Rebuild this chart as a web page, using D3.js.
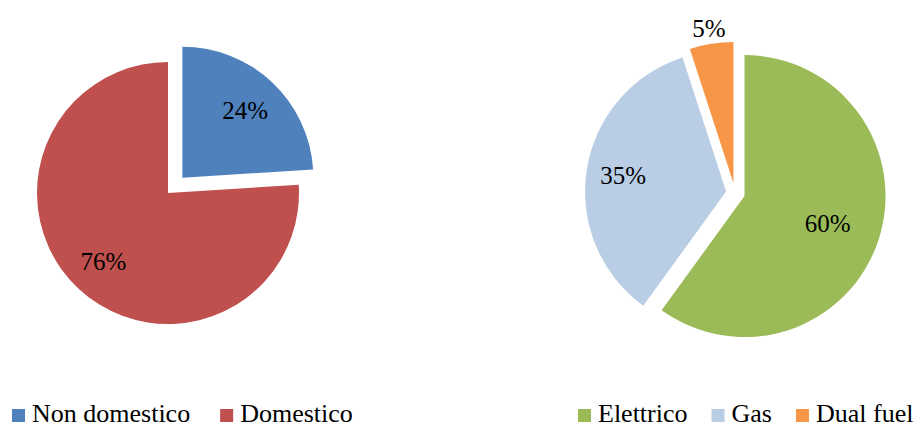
<!DOCTYPE html>
<html>
<head>
<meta charset="utf-8">
<script src="https://cdn.jsdelivr.net/npm/d3@7"></script>
<style>
  body { margin: 0; background: #fff; }
  svg { display: block; }
</style>
</head>
<body>
<svg id="chart" width="917" height="428"></svg>
<script>
// data
var leftCategories = ["Non domestico", "Domestico"];
var leftValues = [24, 76];
var leftColors = ["#4F81BD", "#C0504D"];

var rightCategories = ["Elettrico", "Gas", "Dual fuel"];
var rightValues = [60, 35, 5];
var rightColors = ["#9BBB59", "#B9CDE5", "#F79646"];

var fontFamily = "'Liberation Serif', 'Times New Roman', serif";

var svg = d3.select("#chart");

// layout of each pie (center, radius, how far each slice is pulled out,
// where its label sits as a fraction of the radius (null = outside), legend start)
drawPie({
	cx: 168, cy: 193, r: 131,
	explode: [21, 0],
	labelRatio: [0.7, 0.72],
	legendX: 12,
	legendGap: 30
}, leftCategories, leftValues, leftColors);

drawPie({
	cx: 735, cy: 193, r: 141,
	explode: [10, 9, 10],
	labelRatio: [0.62, 0.74, null],
	legendX: 578,
	legendGap: 24
}, rightCategories, rightValues, rightColors);

function drawPie(cfg, cats, vals, colors) {
	var data = cats.map(function(c, i) { return {name: c, value: vals[i], i: i}; });
	var total = d3.sum(vals);

	var pie = d3.pie().sort(null).value(function(d) { return d.value; });
	var arcs = pie(data);

	var arc = d3.arc().innerRadius(0).outerRadius(cfg.r);

	var g = svg.append("g").attr("transform", "translate(" + cfg.cx + "," + cfg.cy + ")");

	var slices = g.selectAll("g.slice")
		.data(arcs)
		.enter()
		.append("g")
		.attr("class", "slice")
		.attr("transform", function(d) {
			var a = (d.startAngle + d.endAngle) / 2;
			var e = cfg.explode[d.index];
			return "translate(" + (Math.sin(a) * e) + "," + (-Math.cos(a) * e) + ")";
		});

	slices.append("path")
		.attr("d", arc)
		.style("fill", function(d) { return colors[d.index]; });

	// percentage labels, the tiny slice gets its label outside (Excel best fit)
	function labelPos(d) {
		var a = (d.startAngle + d.endAngle) / 2;
		var k = cfg.labelRatio[d.index];
		var rr = k == null ? cfg.r + 16 : cfg.r * k;
		return [Math.sin(a) * rr, -Math.cos(a) * rr];
	}

	slices.append("text")
		.attr("text-anchor", "middle")
		.attr("dominant-baseline", "central")
		.attr("font-family", fontFamily)
		.attr("font-size", 25)
		.attr("x", function(d) { return labelPos(d)[0]; })
		.attr("y", function(d) { return labelPos(d)[1]; })
		.text(function(d) { return Math.round(d.data.value / total * 100) + "%"; });

	// legend along the bottom
	var legend = svg.append("g").attr("transform", "translate(" + cfg.legendX + ",0)");
	var x = 0;
	data.forEach(function(d) {
		legend.append("rect")
			.attr("x", x).attr("y", 409)
			.attr("width", 13).attr("height", 13)
			.style("fill", colors[d.i]);
		var t = legend.append("text")
			.attr("x", x + 20).attr("y", 422)
			.attr("font-family", fontFamily)
			.attr("font-size", 26)
			.text(d.name);
		x += 20 + t.node().getComputedTextLength() + cfg.legendGap;
	});
}
</script>
</body>
</html>
